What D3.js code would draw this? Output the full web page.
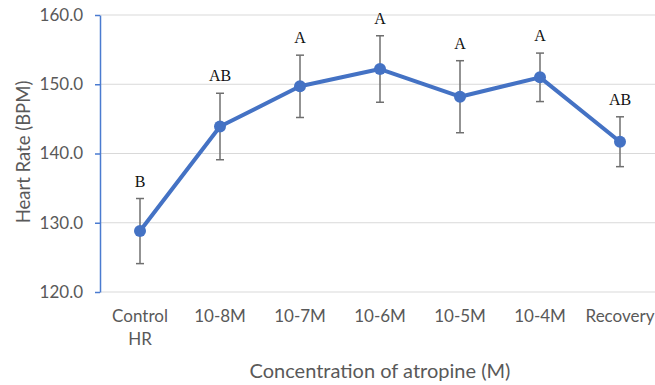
<!DOCTYPE html>
<html>
<head>
<meta charset="utf-8">
<script src="https://cdn.jsdelivr.net/npm/d3@7"></script>
<style>
body { margin: 0; background: #fff; }
text { font-family: Lato, "Open Sans", sans-serif; }
</style>
</head>
<body>
<svg id="chart" width="655" height="385"></svg>
<script>
var categories = ['Control HR', '10-8M', '10-7M', '10-6M', '10-5M', '10-4M', 'Recovery'];
var means = [128.8, 143.9, 149.7, 152.2, 148.2, 151.0, 141.7];
var errors = [4.7, 4.8, 4.5, 4.8, 5.2, 3.5, 3.6];
var groups = ['B', 'AB', 'A', 'A', 'A', 'A', 'AB'];
var yTicks = [120, 130, 140, 150, 160];

var svg = d3.select('#chart');
var LEFT = 100, TOP = 15, BOTTOM = 292, RIGHT = 660;

var x = d3.scalePoint()
    .domain(categories)
    .range([LEFT, RIGHT])
    .padding(0.5);
var y = d3.scaleLinear()
    .domain([120, 160])
    .range([BOTTOM, TOP]);

// gridlines
svg.append('g').selectAll('line')
    .data(yTicks)
    .enter().append('line')
    .attr('x1', LEFT).attr('x2', RIGHT)
    .attr('y1', function (d) { return y(d); })
    .attr('y2', function (d) { return y(d); })
    .style('stroke', '#d9d9d9')
    .style('stroke-width', 1);

// y axis
var yAxis = svg.append('g')
    .attr('transform', 'translate(' + LEFT + ',0)')
    .call(d3.axisLeft(y).tickValues(yTicks).tickFormat(d3.format('.1f')).tickSize(5).tickSizeOuter(0));
yAxis.select('.domain').style('stroke', '#4a7bd0').style('stroke-width', 1.5);
yAxis.selectAll('.tick line').style('stroke', '#4a7bd0').style('stroke-width', 1.5);
yAxis.selectAll('.tick text')
    .attr('x', -17)
    .style('font-size', '17px')
    .style('fill', '#595959');

// x labels
var xl = svg.append('g').selectAll('text')
    .data(categories)
    .enter().append('text')
    .attr('x', function (d) { return x(d); })
    .attr('y', 322)
    .attr('text-anchor', 'middle')
    .style('font-size', '17px')
    .style('fill', '#595959');
xl.each(function (d) {
    var parts = d == 'Control HR' ? ['Control', 'HR'] : [d];
    var t = d3.select(this);
    parts.forEach(function (p, i) {
        t.append('tspan').attr('x', x(d)).attr('dy', i ? 23 : 0).text(p);
    });
});

// axis titles
svg.append('text')
    .attr('x', 380).attr('y', 378)
    .attr('text-anchor', 'middle')
    .style('font-size', '20px')
    .style('fill', '#595959')
    .text('Concentration of atropine (M)');
svg.append('text')
    .attr('transform', 'translate(30,152) rotate(-90)')
    .attr('text-anchor', 'middle')
    .style('font-size', '18.5px')
    .style('fill', '#595959')
    .text('Heart Rate (BPM)');

// error bars
var eb = svg.append('g').selectAll('g')
    .data(categories)
    .enter().append('g')
    .style('stroke', '#6f6f6f')
    .style('stroke-width', 1.5);
eb.append('line')
    .attr('x1', function (d) { return x(d); })
    .attr('x2', function (d) { return x(d); })
    .attr('y1', function (d, i) { return y(means[i] + errors[i]); })
    .attr('y2', function (d, i) { return y(means[i] - errors[i]); });
[1, -1].forEach(function (s) {
    eb.append('line')
        .attr('x1', function (d) { return x(d) - 4; })
        .attr('x2', function (d) { return x(d) + 4; })
        .attr('y1', function (d, i) { return y(means[i] + s * errors[i]); })
        .attr('y2', function (d, i) { return y(means[i] + s * errors[i]); });
});

// line
var line = d3.line()
    .x(function (d, i) { return x(categories[i]); })
    .y(function (d) { return y(d); });
svg.append('path')
    .datum(means)
    .attr('d', line)
    .style('fill', 'none')
    .style('stroke', '#4472c4')
    .style('stroke-width', 4)
    .style('stroke-linejoin', 'round');
svg.append('g').selectAll('circle')
    .data(means)
    .enter().append('circle')
    .attr('cx', function (d, i) { return x(categories[i]); })
    .attr('cy', function (d) { return y(d); })
    .attr('r', 6)
    .style('fill', '#4472c4');

// group letters
svg.append('g').selectAll('text')
    .data(groups)
    .enter().append('text')
    .attr('x', function (d, i) { return x(categories[i]); })
    .attr('y', function (d, i) { return y(means[i] + errors[i]) - 12; })
    .attr('text-anchor', 'middle')
    .style('font-family', '"Liberation Serif", "DejaVu Serif", serif')
    .style('font-size', '16px')
    .style('fill', '#111')
    .text(function (d) { return d; });
</script>
</body>
</html>
